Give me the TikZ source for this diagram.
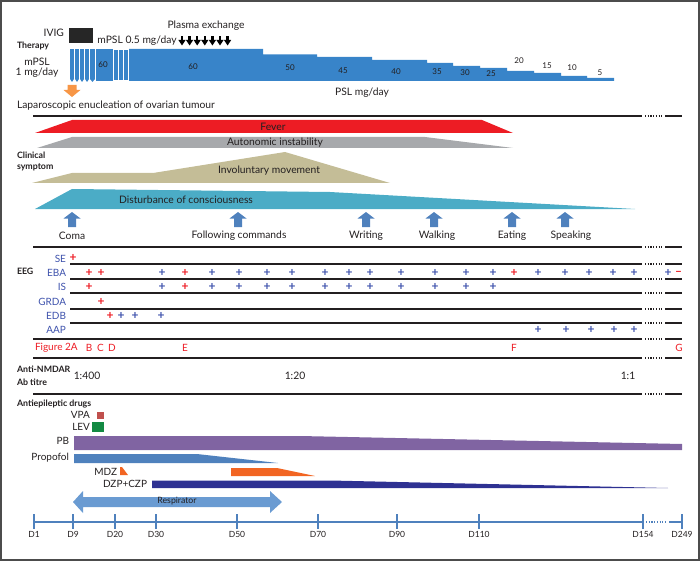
\documentclass[tikz,border=0pt]{standalone}
\usepackage{fontspec}
\setmainfont{Lato}
\usetikzlibrary{arrows.meta}
\definecolor{pslblue}{RGB}{56,132,201}
\definecolor{feverred}{RGB}{237,28,36}
\definecolor{autogray}{RGB}{167,169,172}
\definecolor{khaki}{RGB}{196,189,151}
\definecolor{teal}{RGB}{75,172,198}
\definecolor{arrowblue}{RGB}{79,129,189}
\definecolor{eegblue}{RGB}{62,82,172}
\definecolor{myred}{RGB}{237,28,36}
\definecolor{pbpurple}{RGB}{128,100,162}
\definecolor{propblue}{RGB}{79,129,189}
\definecolor{mdzorange}{RGB}{242,101,34}
\definecolor{dzpnavy}{RGB}{46,49,146}
\definecolor{respblue}{RGB}{106,155,210}
\definecolor{vpared}{RGB}{192,80,77}
\definecolor{levgreen}{RGB}{19,138,67}
\definecolor{orarrow}{RGB}{247,150,70}
\definecolor{txtc}{RGB}{35,31,32}
\newcommand{\mysep}[3]{%
  \draw[#1] (#2,#3) -- (642,#3);
  \draw[#1,dotseg] (645,#3) -- (662,#3);
  \draw[#1] (665,#3) -- (682,#3);}
\newcommand{\upblue}[1]{%
  \fill[arrowblue] ({#1-8.5},218.5) -- (#1,212) -- ({#1+8.5},218.5) -- ({#1+4},218.5) -- ({#1+4},227) -- ({#1-4},227) -- ({#1-4},218.5) -- cycle;}
\begin{document}
\begin{tikzpicture}[x=1pt,y=-1pt,
  every node/.style={inner sep=0pt,outer sep=0pt,text=txtc},
  txt/.style={font=\fontsize{10.3}{11}\selectfont},
  head/.style={font=\bfseries\fontsize{8.8}{10}\selectfont,anchor=west},
  num/.style={font=\fontsize{8}{9}\selectfont},
  eeglab/.style={font=\fontsize{10}{11}\selectfont,text=eegblue,anchor=east},
  pb/.style={font=\bfseries\fontsize{12}{12}\selectfont,text=eegblue},
  pr/.style={font=\bfseries\fontsize{12}{12}\selectfont,text=myred},
  figlab/.style={font=\fontsize{10}{11}\selectfont,text=myred},
  sepline/.style={line width=1.8pt,draw=txtc},
  rowline/.style={line width=1.3pt,draw=txtc},
  dotseg/.style={dash pattern=on 1.2pt off 1.5pt},
  druglab/.style={font=\fontsize{10}{11}\selectfont,anchor=east},
  ticklab/.style={font=\fontsize{8.5}{9}\selectfont},
]
\useasboundingbox (0,0) rectangle (700,561);
\draw[line width=1.2pt,draw=black!70] (1,1) rectangle (699,560);

% ---------------- Therapy ----------------
\node[txt,anchor=east] (ivig) at (64,33) {IVIG};
\fill[black!85] (69,28) rectangle (93,43);
\node[head] (therapy) at (17,46) {Therapy};
\node[txt] (mpsl) at (37,62) {mPSL};
\node[txt] (mpsldose) at (37,73) {1 mg/day};
\node[txt] (mpslhalf) at (137,41) {mPSL 0.5 mg/day};
\node[txt] (plasma) at (206,26) {Plasma exchange};
\foreach \i in {0,...,6}{
  \fill[black] ({182+7.6*\i-1.2},36) rectangle ({182+7.6*\i+1.2},40.5);
  \fill[black] ({182+7.6*\i-3.6},40) -- ({182+7.6*\i+3.6},40) -- ({182+7.6*\i},45.5) -- cycle;
}
% 1 mg/day pulses
\foreach \a/\b in {70/74,75/79,80/84,85/89,90/95}{
  \fill[pslblue] (\a,49) rectangle (\b,79);
  \fill[pslblue] (\a,79) -- (\b,79) -- ({(\a+\b)/2},82) -- cycle;
}
\fill[pslblue] (95.5,49) rectangle (113,81);
\node[num] (sixtya) at (103,65) {60};
\foreach \a/\b in {113.8/118,118.8/123,123.8/128.3}{
  \fill[pslblue] (\a,50) rectangle (\b,80);
}
% PSL staircase
\fill[pslblue] (129,49) -- (263,49) -- (263,54.5) -- (317,54.5) -- (317,57) -- (372,57) -- (372,60) -- (427,60) -- (427,63) -- (453,63) -- (453,66) -- (480,66) -- (480,68) -- (507,68) -- (507,71) -- (534,71) -- (534,73) -- (561,73) -- (561,76) -- (587,76) -- (587,78) -- (614,78) -- (614,81) -- (129,81) -- cycle;
\node[num] (p60) at (193,67) {60};
\node[num] (p50) at (290,68) {50};
\node[num] (p45) at (343,71) {45};
\node[num] (p40) at (396,72) {40};
\node[num] (p35) at (437,72) {35};
\node[num] (p30) at (465,73) {30};
\node[num] (p25) at (491,74) {25};
\node[num] (p20) at (519,61) {20};
\node[num] (p15) at (547,65.5) {15};
\node[num] (p10) at (572,68) {10};
\node[num] (p5) at (600,73) {5};
\node[txt] (psl) at (362,92.5) {PSL mg/day};
% orange arrow
\fill[orarrow] (67.5,85) -- (76.5,85) -- (76.5,90) -- (80.5,90) -- (72,97) -- (63.5,90) -- (67.5,90) -- cycle;
\node[txt,anchor=west] (lap) at (17,105.5) {Laparoscopic enucleation of ovarian tumour};
\mysep{sepline}{33}{116}

% ---------------- Clinical ----------------
\fill[feverred] (35,133) -- (72,120) -- (482,120) -- (513,133) -- cycle;
\node[txt] (fever) at (273,126.5) {Fever};
\fill[autogray] (37,148) -- (72,137) -- (425,137) -- (513,148) -- cycle;
\node[txt] (auto) at (275,142.5) {Autonomic instability};
\node[head] (clin1) at (17,155) {Clinical};
\node[head] (clin2) at (17,167) {symptom};
\fill[khaki] (32,183) -- (72,173) -- (153,173) -- (285,152) -- (390,183) -- cycle;
\node[txt] (invol) at (269,171) {Involuntary movement};
\fill[teal] (35,209) -- (72,189) -- (330,192) -- (635,209) -- cycle;
\node[txt] (dist) at (186,200) {Disturbance of consciousness};
\foreach \x in {72,238,366,434,512,565}{\upblue{\x}}
\node[txt] (coma) at (72,236) {Coma};
\node[txt] (follow) at (239,236) {Following commands};
\node[txt] (writing) at (366,236) {Writing};
\node[txt] (walking) at (437,236) {Walking};
\node[txt] (eating) at (512,236) {Eating};
\node[txt] (speaking) at (571,236) {Speaking};
\mysep{sepline}{33}{247}

% ---------------- EEG ----------------
\node[head] (eeg) at (17,271) {EEG};
\node[eeglab] (se) at (66,258.5) {SE};
\node[eeglab] (eba) at (66,273) {EBA};
\node[eeglab] (is) at (66,287) {IS};
\node[eeglab] (grda) at (66,301.5) {GRDA};
\node[eeglab] (edb) at (66,316) {EDB};
\node[eeglab] (aap) at (66,330) {AAP};
\mysep{rowline}{70}{264}
\mysep{rowline}{70}{279}
\mysep{rowline}{70}{293}
\mysep{rowline}{70}{309}
\mysep{rowline}{70}{323}
\mysep{sepline}{33}{339}
\node[pr] (se1) at (73,258) {+};
\foreach \x in {89,101,185,514}{\node[pr] (ebar\x) at (\x,273) {+};}
\foreach \x in {162,212,239,267,292,325,349,370,401,435,466,493,538,565,589,613,634,668}{\node[pb] (ebab\x) at (\x,273) {+};}
\node[pr] (ebaminus) at (678.5,273) {–};
\foreach \x in {89,185}{\node[pr] (isr\x) at (\x,287) {+};}
\foreach \x in {162,212,239,267,292,325,349,370,401,435,466,493}{\node[pb] (isb\x) at (\x,287) {+};}
\node[pr] (grda1) at (101,301.5) {+};
\node[pr] (edbr) at (110,316) {+};
\foreach \x in {121,135,161}{\node[pb] (edbb\x) at (\x,316) {+};}
\foreach \x in {538,566,591,614,634}{\node[pb] (aapb\x) at (\x,330) {+};}
\node[figlab,anchor=west] (figA) at (35,347.5) {Figure 2A};
\node[figlab] (figB) at (89,347.5) {B};
\node[figlab] (figC) at (100.5,347.5) {C};
\node[figlab] (figD) at (112,347.5) {D};
\node[figlab] (figE) at (185,347.5) {E};
\node[figlab] (figF) at (514,347.5) {F};
\node[figlab] (figG) at (679,347.5) {G};
\mysep{sepline}{33}{358}

% ---------------- Titre ----------------
\node[head] (anti1) at (17,369.5) {Anti-NMDAR};
\node[head] (anti2) at (17,382.5) {Ab titre};
\node[txt] (t400) at (87,375.5) {1:400};
\node[txt] (t20) at (295,375.5) {1:20};
\node[txt] (t1) at (628,375.5) {1:1};
\mysep{sepline}{33}{394}

% ---------------- Drugs ----------------
\node[head] (aed) at (17,404) {Antiepileptic drugs};
\node[druglab] (vpa) at (90,415) {VPA};
\fill[vpared] (97,412) rectangle (104,419);
\node[druglab] (lev) at (90,427) {LEV};
\fill[levgreen] (92,422) rectangle (104,432);
\node[druglab] (pblab) at (69,440.5) {PB};
\fill[pbpurple] (74,436) -- (300,436) -- (682,444) -- (682,450) -- (74,450) -- cycle;
\node[druglab] (prop) at (69,458) {Propofol};
\fill[propblue] (74,454) -- (197,454) -- (278,463) -- (74,463) -- cycle;
\node[druglab] (mdz) at (117,472) {MDZ};
\fill[mdzorange] (120,467) -- (122,467) -- (128,475) -- (120,475) -- cycle;
\fill[mdzorange] (231,468) -- (277,468) -- (315,476) -- (231,476) -- cycle;
\node[druglab] (dzp) at (147,484) {DZP+CZP};
\fill[dzpnavy] (152,480.5) -- (330,480.5) -- (668,488) -- (152,488) -- cycle;
% Respirator
\fill[respblue] (73,502) -- (83,491) -- (83,497) -- (270,497) -- (270,491) -- (282,502) -- (270,513) -- (270,507) -- (83,507) -- (83,513) -- cycle;
\node[font=\fontsize{8.7}{9}\selectfont] (resp) at (177,501.5) {Respirator};

% ---------------- Axis ----------------
\draw[arrowblue,line width=1.3pt] (34,522) -- (643,522);
\draw[arrowblue,line width=1.3pt,dotseg] (646,522) -- (667,522);
\draw[arrowblue,line width=1.3pt] (669,522) -- (682,522);
\foreach \x/\l in {34/D1,73/D9,115/D20,156/D30,237/D50,318/D70,397/D90,479/D110,643/D154,682/D249}{
  \draw[arrowblue,line width=1.3pt] (\x,514) -- (\x,529);
  \node[ticklab] (tick\l) at (\x,534.5) {\l};
}
\end{tikzpicture}
\end{document}
